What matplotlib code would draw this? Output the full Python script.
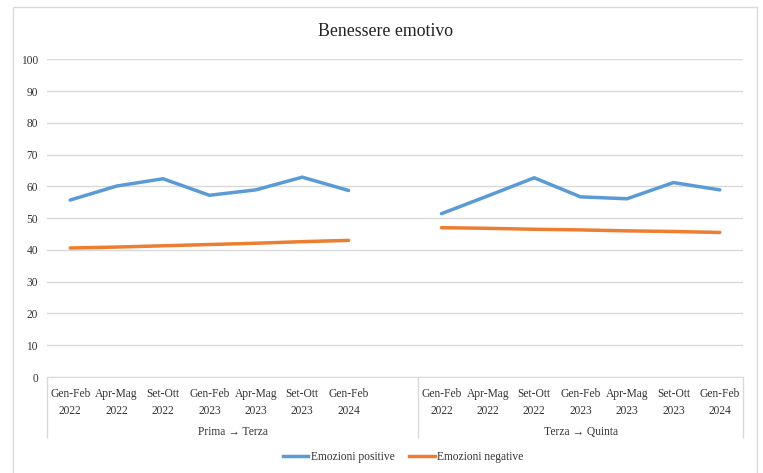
import numpy as np
import matplotlib
matplotlib.use("Agg")
import matplotlib.pyplot as plt
from matplotlib.lines import Line2D
from matplotlib.patches import Rectangle
import matplotlib.transforms as mtransforms

plt.rcParams['font.family'] = ['Liberation Serif', 'DejaVu Serif']

# Data
periods = ["Gen-Feb\n2022", "Apr-Mag\n2022", "Set-Ott\n2022", "Gen-Feb\n2023",
           "Apr-Mag\n2023", "Set-Ott\n2023", "Gen-Feb\n2024"]
groups = ["Prima \u2192 Terza", "Terza \u2192 Quinta"]

pos_g1 = [55.7, 60.1, 62.4, 57.2, 58.9, 62.9, 58.7]
neg_g1 = [40.6, 40.9, 41.3, 41.7, 42.1, 42.6, 43.0]
pos_g2 = [51.4, 57.0, 62.7, 56.7, 56.1, 61.2, 58.9]
neg_g2 = [47.0, 46.8, 46.5, 46.3, 46.0, 45.8, 45.5]

title = "Benessere emotivo"
series_names = ["Emozioni positive", "Emozioni negative"]
c_pos = "#5B9BD5"
c_neg = "#ED7D31"
grid_c = "#D9D9D9"
txt_c = "#333333"

# Category layout: group 1 (7 periods + one empty slot), group 2 (7 periods)
n1 = len(periods)
x1 = np.arange(n1)
x2 = np.arange(n1) + n1 + 1
ncat = 2 * n1 + 1

fig = plt.figure(figsize=(7.63, 4.73), dpi=100)
ax = fig.add_axes([47 / 763, 1 - 377 / 473, (743 - 47) / 763, (377 - 59.3) / 473])

# Chart area border
fig.patches.append(Rectangle((13 / 763, -0.02), (757 - 13) / 763, 1 - 7 / 473 + 0.02,
                             transform=fig.transFigure, fill=False,
                             edgecolor=grid_c, linewidth=1.0, zorder=0))

ax.set_xlim(-0.5, ncat - 0.5)
ax.set_ylim(0, 100)
ax.set_yticks(np.arange(0, 101, 10))
ax.yaxis.grid(True, color=grid_c, linewidth=1.0)
ax.set_axisbelow(True)
for s in ["left", "right", "top"]:
    ax.spines[s].set_visible(False)
ax.spines["bottom"].set_color(grid_c)
ax.tick_params(axis="y", length=0, labelsize=8.3, pad=6.5, colors=txt_c)

# Lines
ax.plot(x1, pos_g1, color=c_pos, lw=2.5, solid_capstyle="round", solid_joinstyle="miter")
ax.plot(x2, pos_g2, color=c_pos, lw=2.5, solid_capstyle="round", solid_joinstyle="miter")
ax.plot(x1, neg_g1, color=c_neg, lw=2.5, solid_capstyle="round")
ax.plot(x2, neg_g2, color=c_neg, lw=2.5, solid_capstyle="round")

# Category labels
ax.set_xticks(list(x1) + list(x2))
ax.set_xticklabels(periods + periods, fontsize=8.3, linespacing=1.5, color=txt_c)
ax.tick_params(axis="x", which="major", length=0, pad=8)

# Group dividers
ax.set_xticks([-0.5, n1 + 0.5, ncat - 0.5], minor=True)
ax.tick_params(axis="x", which="minor", length=44, width=1.0, color=grid_c, direction="out")

trans = mtransforms.blended_transform_factory(ax.transData, ax.transAxes)
y_grp = -(432 - 377) / (377 - 59.3)
ax.text((-0.5 + n1 + 0.5) / 2, y_grp, groups[0], transform=trans, ha="center",
        va="center", fontsize=8.3, color=txt_c)
ax.text((n1 + 0.5 + ncat - 0.5) / 2, y_grp, groups[1], transform=trans, ha="center",
        va="center", fontsize=8.3, color=txt_c)

# Title
fig.text(385 / 763, 1 - 31 / 473, title, ha="center", va="center", fontsize=12.8, color="#222222")

# Legend
handles = [Line2D([0], [0], color=c_pos, lw=2.5), Line2D([0], [0], color=c_neg, lw=2.5)]
leg = fig.legend(handles, series_names, loc="center", bbox_to_anchor=(403 / 763, 1 - 457 / 473),
                 ncol=2, frameon=False, fontsize=8.3, handlelength=2.2, handletextpad=0.2,
                 columnspacing=1.3)
for t in leg.get_texts():
    t.set_color(txt_c)

fig.savefig("out.png", dpi=100)
